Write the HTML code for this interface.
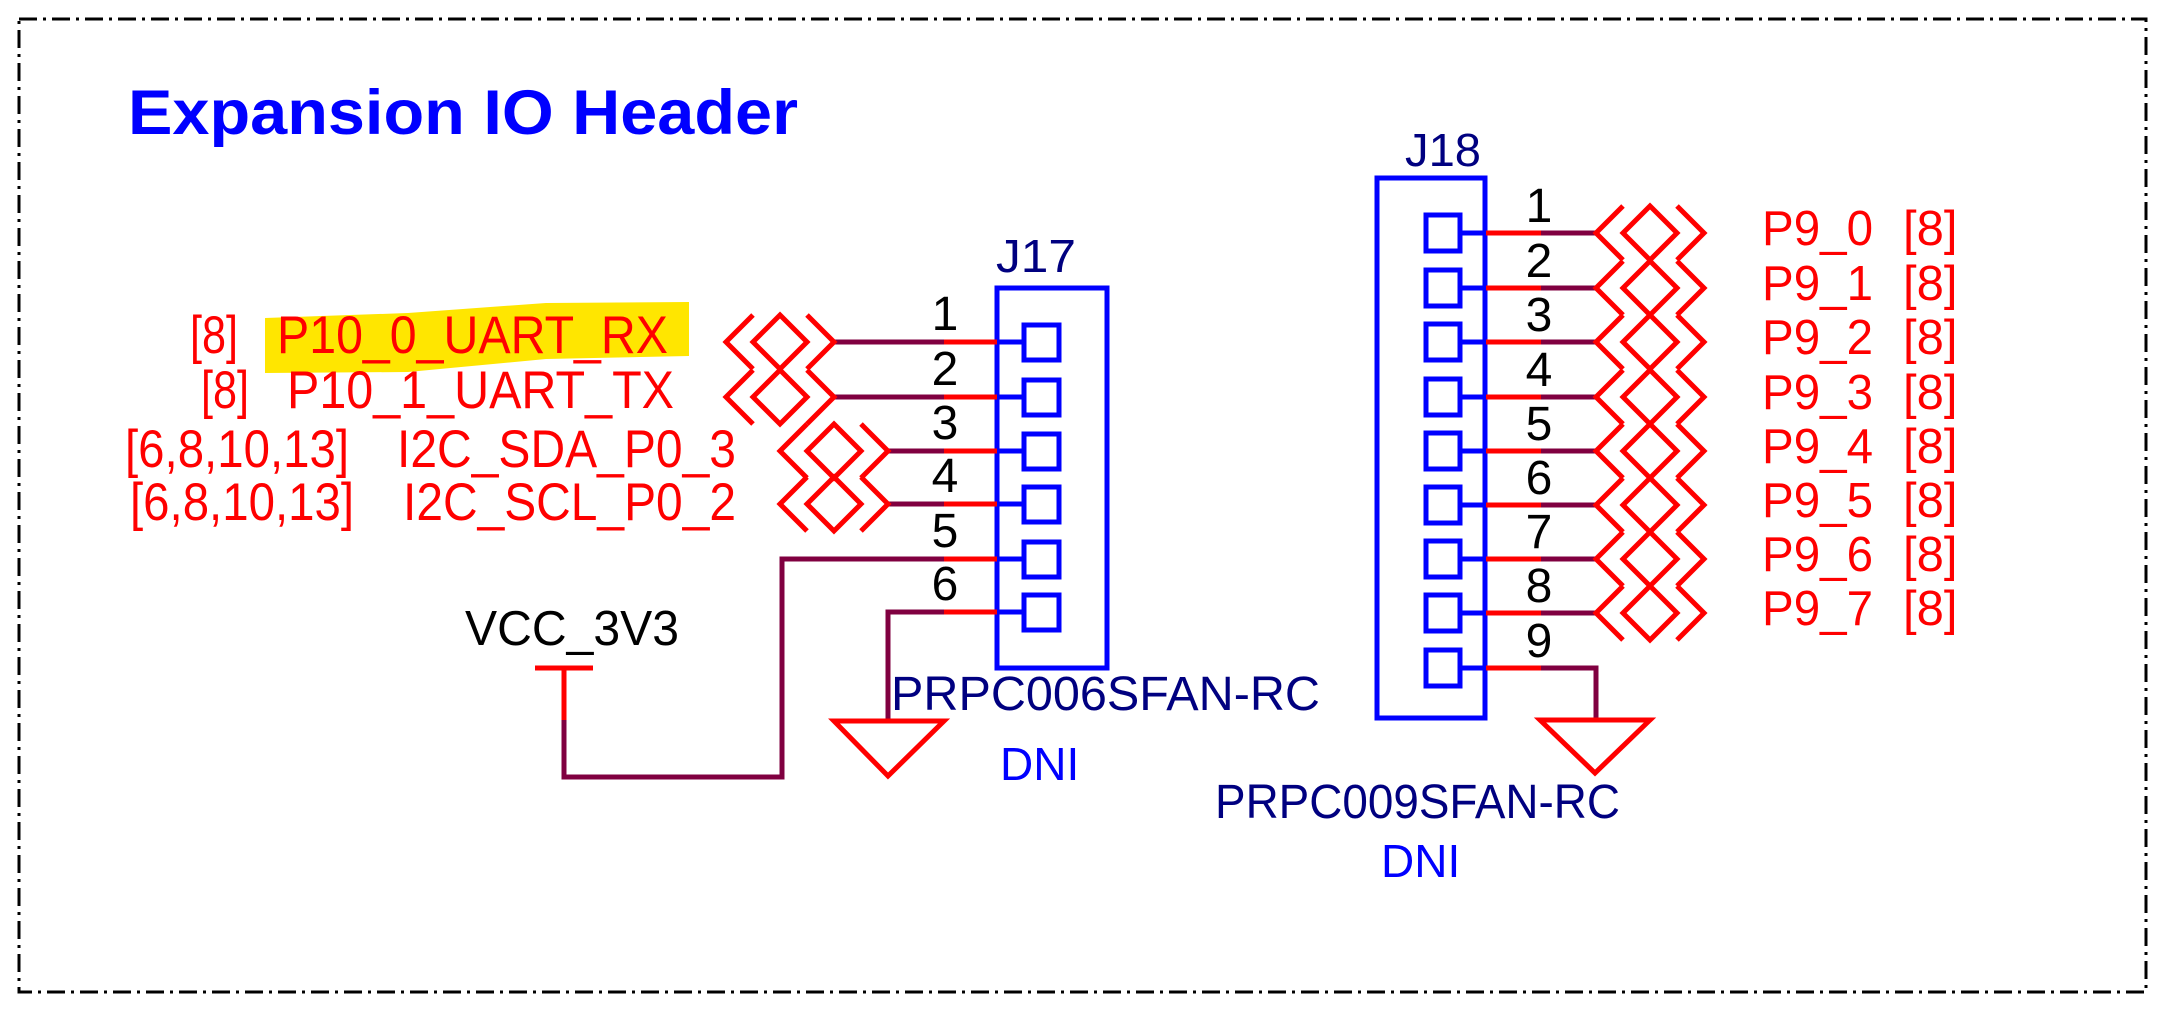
<!DOCTYPE html>
<html><head><meta charset="utf-8"><style>
html,body{margin:0;padding:0;background:#fff;}
svg{display:block;}
text{font-family:"Liberation Sans",sans-serif;}
</style></head><body>
<svg width="2165" height="1010" viewBox="0 0 2165 1010" xmlns="http://www.w3.org/2000/svg">
<rect x="19" y="19" width="2127" height="973" fill="none" stroke="#000" stroke-width="3" stroke-dasharray="18,6,3,6"/>
<text x="128" y="134" font-size="63" font-weight="bold" fill="#0000ff" textLength="670" lengthAdjust="spacingAndGlyphs">Expansion IO Header</text>

<polygon points="265,318 408,313 546,303 689,302 689,356 546,359 408,372 265,373" fill="#ffe600"/>

<g fill="#ff0000" font-size="53">
<text x="190" y="353" textLength="48" lengthAdjust="spacingAndGlyphs">[8]</text>
<text x="277" y="353" textLength="391" lengthAdjust="spacingAndGlyphs">P10_0_UART_RX</text>
<text x="201" y="408" textLength="48" lengthAdjust="spacingAndGlyphs">[8]</text>
<text x="287" y="408" textLength="387" lengthAdjust="spacingAndGlyphs">P10_1_UART_TX</text>
<text x="125" y="467" textLength="224" lengthAdjust="spacingAndGlyphs">[6,8,10,13]</text>
<text x="397" y="467" textLength="339" lengthAdjust="spacingAndGlyphs">I2C_SDA_P0_3</text>
<text x="130" y="520" textLength="224" lengthAdjust="spacingAndGlyphs">[6,8,10,13]</text>
<text x="403" y="520" textLength="333" lengthAdjust="spacingAndGlyphs">I2C_SCL_P0_2</text>
</g>

<text x="996" y="272" font-size="46" fill="#000080" textLength="80" lengthAdjust="spacingAndGlyphs">J17</text>
<rect x="997" y="288" width="110" height="380" fill="none" stroke="#0000ff" stroke-width="5"/>
<g stroke="#0000ff" stroke-width="5" fill="none">
<rect x="1024" y="325" width="35" height="35"/><line x1="997" y1="342" x2="1024" y2="342"/>
<rect x="1024" y="380" width="35" height="35"/><line x1="997" y1="397" x2="1024" y2="397"/>
<rect x="1024" y="434" width="35" height="35"/><line x1="997" y1="451" x2="1024" y2="451"/>
<rect x="1024" y="487" width="35" height="35"/><line x1="997" y1="504" x2="1024" y2="504"/>
<rect x="1024" y="542" width="35" height="35"/><line x1="997" y1="559" x2="1024" y2="559"/>
<rect x="1024" y="595" width="35" height="35"/><line x1="997" y1="612" x2="1024" y2="612"/>
</g>
<g stroke="#ff0000" stroke-width="5">
<line x1="944" y1="342" x2="997" y2="342"/><line x1="944" y1="397" x2="997" y2="397"/>
<line x1="944" y1="451" x2="997" y2="451"/><line x1="944" y1="504" x2="997" y2="504"/>
<line x1="944" y1="559" x2="997" y2="559"/><line x1="944" y1="612" x2="997" y2="612"/>
</g>
<g stroke="#800040" stroke-width="5" fill="none">
<line x1="834" y1="342" x2="944" y2="342"/><line x1="834" y1="397" x2="944" y2="397"/>
<line x1="888" y1="451" x2="944" y2="451"/><line x1="888" y1="504" x2="944" y2="504"/>
<polyline points="944,559 782,559 782,777 564,777 564,720"/>
<polyline points="944,612 888,612 888,721"/>
</g>
<g fill="#000" font-size="48" text-anchor="middle">
<text x="945" y="330">1</text><text x="945" y="385">2</text><text x="945" y="439">3</text>
<text x="945" y="492">4</text><text x="945" y="547">5</text><text x="945" y="600">6</text>
</g>

<g stroke="#ff0000" stroke-width="5" fill="none">
<g transform="translate(834,342)"><polyline points="-27,-27 0,0 -27,27"/><polygon points="-54,-27 -27,0 -54,27 -81,0"/><polyline points="-81,-27 -108,0 -81,27"/></g>
<g transform="translate(834,397)"><polyline points="-27,-27 0,0 -27,27"/><polygon points="-54,-27 -27,0 -54,27 -81,0"/><polyline points="-81,-27 -108,0 -81,27"/></g>
<g transform="translate(888,451)"><polyline points="-27,-27 0,0 -27,27"/><polygon points="-54,-27 -27,0 -54,27 -81,0"/><polyline points="-81,-27 -108,0 -81,27"/></g>
<g transform="translate(888,504)"><polyline points="-27,-27 0,0 -27,27"/><polygon points="-54,-27 -27,0 -54,27 -81,0"/><polyline points="-81,-27 -108,0 -81,27"/></g>
</g>

<text x="465" y="645" font-size="49" fill="#000" textLength="214" lengthAdjust="spacingAndGlyphs">VCC_3V3</text>
<g stroke="#ff0000" stroke-width="5">
<line x1="535" y1="668" x2="593" y2="668"/><line x1="564" y1="668" x2="564" y2="720"/>
</g>
<polygon points="834,721 944,721 888,776" fill="none" stroke="#ff0000" stroke-width="5"/>
<text x="891" y="710" font-size="48" fill="#000080" textLength="429" lengthAdjust="spacingAndGlyphs">PRPC006SFAN-RC</text>
<text x="1000" y="780" font-size="46" fill="#0000ff">DNI</text>

<text x="1405" y="166" font-size="46" fill="#000080" textLength="76" lengthAdjust="spacingAndGlyphs">J18</text>
<rect x="1377" y="178" width="108" height="540" fill="none" stroke="#0000ff" stroke-width="5"/>
<g stroke="#0000ff" stroke-width="5" fill="none">
<rect x="1426" y="215" width="34" height="36"/><line x1="1460" y1="233" x2="1486" y2="233"/>
<rect x="1426" y="270" width="34" height="36"/><line x1="1460" y1="288" x2="1486" y2="288"/>
<rect x="1426" y="324" width="34" height="36"/><line x1="1460" y1="342" x2="1486" y2="342"/>
<rect x="1426" y="379" width="34" height="36"/><line x1="1460" y1="397" x2="1486" y2="397"/>
<rect x="1426" y="433" width="34" height="36"/><line x1="1460" y1="451" x2="1486" y2="451"/>
<rect x="1426" y="487" width="34" height="36"/><line x1="1460" y1="505" x2="1486" y2="505"/>
<rect x="1426" y="541" width="34" height="36"/><line x1="1460" y1="559" x2="1486" y2="559"/>
<rect x="1426" y="595" width="34" height="36"/><line x1="1460" y1="613" x2="1486" y2="613"/>
<rect x="1426" y="650" width="34" height="36"/><line x1="1460" y1="668" x2="1486" y2="668"/>
</g>
<g stroke="#ff0000" stroke-width="5">
<line x1="1486" y1="233" x2="1541" y2="233"/><line x1="1486" y1="288" x2="1541" y2="288"/>
<line x1="1486" y1="342" x2="1541" y2="342"/><line x1="1486" y1="397" x2="1541" y2="397"/>
<line x1="1486" y1="451" x2="1541" y2="451"/><line x1="1486" y1="505" x2="1541" y2="505"/>
<line x1="1486" y1="559" x2="1541" y2="559"/><line x1="1486" y1="613" x2="1541" y2="613"/>
<line x1="1486" y1="668" x2="1541" y2="668"/>
</g>
<g stroke="#800040" stroke-width="5" fill="none">
<line x1="1541" y1="233" x2="1596" y2="233"/><line x1="1541" y1="288" x2="1596" y2="288"/>
<line x1="1541" y1="342" x2="1596" y2="342"/><line x1="1541" y1="397" x2="1596" y2="397"/>
<line x1="1541" y1="451" x2="1596" y2="451"/><line x1="1541" y1="505" x2="1596" y2="505"/>
<line x1="1541" y1="559" x2="1596" y2="559"/><line x1="1541" y1="613" x2="1596" y2="613"/>
<polyline points="1541,668 1596,668 1596,720"/>
</g>
<g fill="#000" font-size="48" text-anchor="middle">
<text x="1539" y="222">1</text><text x="1539" y="277">2</text><text x="1539" y="331">3</text>
<text x="1539" y="386">4</text><text x="1539" y="440">5</text><text x="1539" y="494">6</text>
<text x="1539" y="548">7</text><text x="1539" y="602">8</text><text x="1539" y="657">9</text>
</g>
<g stroke="#ff0000" stroke-width="5" fill="none">
<g transform="translate(1596,233)"><polyline points="27,-27 0,0 27,27"/><polygon points="54,-27 81,0 54,27 27,0"/><polyline points="81,-27 108,0 81,27"/></g>
<g transform="translate(1596,288)"><polyline points="27,-27 0,0 27,27"/><polygon points="54,-27 81,0 54,27 27,0"/><polyline points="81,-27 108,0 81,27"/></g>
<g transform="translate(1596,342)"><polyline points="27,-27 0,0 27,27"/><polygon points="54,-27 81,0 54,27 27,0"/><polyline points="81,-27 108,0 81,27"/></g>
<g transform="translate(1596,397)"><polyline points="27,-27 0,0 27,27"/><polygon points="54,-27 81,0 54,27 27,0"/><polyline points="81,-27 108,0 81,27"/></g>
<g transform="translate(1596,451)"><polyline points="27,-27 0,0 27,27"/><polygon points="54,-27 81,0 54,27 27,0"/><polyline points="81,-27 108,0 81,27"/></g>
<g transform="translate(1596,505)"><polyline points="27,-27 0,0 27,27"/><polygon points="54,-27 81,0 54,27 27,0"/><polyline points="81,-27 108,0 81,27"/></g>
<g transform="translate(1596,559)"><polyline points="27,-27 0,0 27,27"/><polygon points="54,-27 81,0 54,27 27,0"/><polyline points="81,-27 108,0 81,27"/></g>
<g transform="translate(1596,613)"><polyline points="27,-27 0,0 27,27"/><polygon points="54,-27 81,0 54,27 27,0"/><polyline points="81,-27 108,0 81,27"/></g>
</g>
<g fill="#ff0000" font-size="49">
<text x="1762" y="245" textLength="111" lengthAdjust="spacingAndGlyphs">P9_0</text><text x="1903" y="245">[8]</text>
<text x="1762" y="300" textLength="111" lengthAdjust="spacingAndGlyphs">P9_1</text><text x="1903" y="300">[8]</text>
<text x="1762" y="354" textLength="111" lengthAdjust="spacingAndGlyphs">P9_2</text><text x="1903" y="354">[8]</text>
<text x="1762" y="409" textLength="111" lengthAdjust="spacingAndGlyphs">P9_3</text><text x="1903" y="409">[8]</text>
<text x="1762" y="463" textLength="111" lengthAdjust="spacingAndGlyphs">P9_4</text><text x="1903" y="463">[8]</text>
<text x="1762" y="517" textLength="111" lengthAdjust="spacingAndGlyphs">P9_5</text><text x="1903" y="517">[8]</text>
<text x="1762" y="571" textLength="111" lengthAdjust="spacingAndGlyphs">P9_6</text><text x="1903" y="571">[8]</text>
<text x="1762" y="625" textLength="111" lengthAdjust="spacingAndGlyphs">P9_7</text><text x="1903" y="625">[8]</text>
</g>
<polygon points="1540,720 1650,720 1595,773" fill="none" stroke="#ff0000" stroke-width="5"/>
<text x="1215" y="818" font-size="48" fill="#000080" textLength="405" lengthAdjust="spacingAndGlyphs">PRPC009SFAN-RC</text>
<text x="1381" y="877" font-size="46" fill="#0000ff">DNI</text>
</svg>
</body></html>
